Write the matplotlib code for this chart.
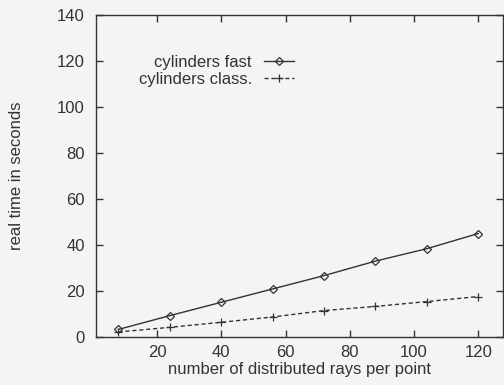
import matplotlib
matplotlib.use('Agg')
import matplotlib.pyplot as plt

rays = [8, 24, 40, 56, 72, 88, 104, 120]
fast = [3.3, 9.3, 15.1, 20.9, 26.7, 33.0, 38.4, 45.0]
classic = [2.2, 4.2, 6.4, 8.7, 11.5, 13.3, 15.4, 17.6]

plt.rcParams['font.family'] = ['Liberation Sans', 'DejaVu Sans']
bg = '#f4f4f4'
ink = '#333333'
fs = 12

fig = plt.figure(figsize=(5.04, 3.85), dpi=100, facecolor=bg)
ax = fig.add_axes([96 / 504, 1 - 337 / 385, 407 / 504, 322 / 385], facecolor=bg)

ax.plot(rays, fast, color=ink, lw=1.0, marker='D', ms=3.8, mfc='none', mew=0.9,
        label='cylinders fast')
ax.plot(rays, classic, color=ink, lw=1.0, ls=(0, (3, 2)), marker='+', ms=6, mew=0.9,
        label='cylinders class.')

ax.set_xlim(1, 127.7)
ax.set_ylim(0, 140)
ax.set_xticks([20, 40, 60, 80, 100, 120])
ax.set_yticks(range(0, 141, 20))
ax.tick_params(direction='in', length=5, width=1, colors=ink, labelsize=fs,
               top=True, right=True, pad=8)
ax.tick_params(axis='x', pad=6)
for s in ax.spines.values():
    s.set_color(ink)
    s.set_linewidth(1)

ax.set_xlabel('number of distributed rays per point', fontsize=fs, color=ink, labelpad=1)
ax.set_ylabel('real time in seconds', fontsize=fs, color=ink, labelpad=24)

leg = ax.legend(loc='upper right', bbox_to_anchor=(302 / 504, 1 - 47 / 385),
                bbox_transform=fig.transFigure, frameon=False, markerfirst=False,
                handlelength=1.8, fontsize=fs, labelspacing=0.1, borderpad=0,
                handletextpad=0.7)
for t in leg.get_texts():
    t.set_color(ink)
    t.set_ha('right')

fig.savefig('out.png', dpi=100, facecolor=bg)
